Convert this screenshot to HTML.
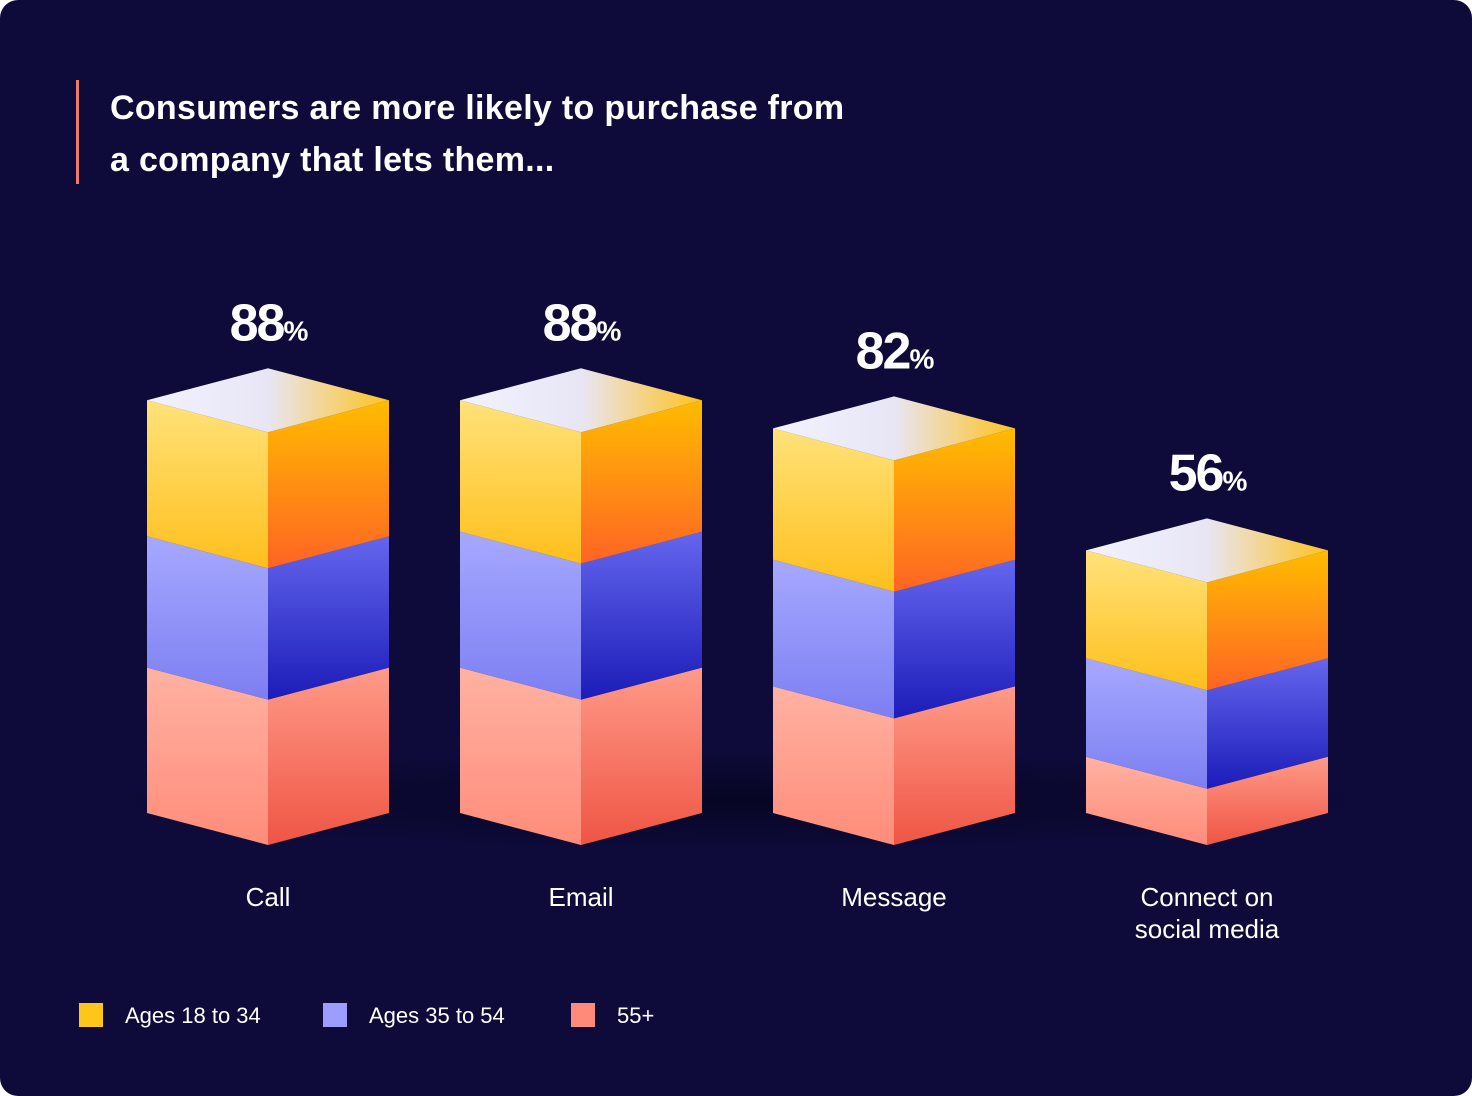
<!DOCTYPE html>
<html><head><meta charset="utf-8">
<style>
html,body{margin:0;padding:0;background:#fff;}
#root{position:relative;width:1472px;height:1096px;background:#0e0b3a;border-radius:18px;overflow:hidden;font-family:"Liberation Sans",sans-serif;color:#fff;}
.title{position:absolute;left:110px;top:82px;font-size:34px;line-height:52px;font-weight:bold;letter-spacing:0.3px;}
.tbar{position:absolute;left:76px;top:80px;width:3px;height:104px;background:#ef7a6a;}
svg{position:absolute;left:0;top:0;}
.leg{position:absolute;top:1003px;font-size:22px;}
.sw{position:absolute;top:1003px;width:24px;height:24px;}
</style></head><body>
<div id="root">
<div class="tbar"></div>
<div class="title">Consumers are more likely to purchase from<br>a company that lets them...</div>
<svg id="chart" width="1472" height="1096">
<defs>
<linearGradient id="gYL" x1="0" y1="0" x2="0" y2="1"><stop offset="0" stop-color="#ffe27a"/><stop offset="1" stop-color="#ffbf1c"/></linearGradient>
<linearGradient id="gYR" x1="0" y1="0" x2="0" y2="1"><stop offset="0" stop-color="#ffbc00"/><stop offset="1" stop-color="#ff6424"/></linearGradient>
<linearGradient id="gBL" x1="0" y1="0" x2="0" y2="1"><stop offset="0" stop-color="#a6a8ff"/><stop offset="1" stop-color="#7d7ff2"/></linearGradient>
<linearGradient id="gBR" x1="0" y1="0" x2="0" y2="1"><stop offset="0" stop-color="#6466ee"/><stop offset="1" stop-color="#1c1cb8"/></linearGradient>
<linearGradient id="gSL" x1="0" y1="0" x2="0" y2="1"><stop offset="0" stop-color="#ffb2a2"/><stop offset="1" stop-color="#ff8c7a"/></linearGradient>
<linearGradient id="gSR" x1="0" y1="0" x2="0" y2="1"><stop offset="0" stop-color="#ff9a88"/><stop offset="1" stop-color="#ef5544"/></linearGradient>
<linearGradient id="gT" x1="0" y1="0" x2="1" y2="0"><stop offset="0" stop-color="#f2f2ff"/><stop offset="0.5" stop-color="#e8e6f4"/><stop offset="1" stop-color="#ffc21e"/></linearGradient>
<radialGradient id="gSh" cx="0.5" cy="0.5" r="0.5"><stop offset="0" stop-color="#050420" stop-opacity="0.9"/><stop offset="1" stop-color="#050420" stop-opacity="0"/></radialGradient>
</defs>
</svg>
<div class="sw" style="left:79px;background:#ffc61a"></div>
<div class="leg" style="left:125px">Ages 18 to 34</div>
<div class="sw" style="left:323px;background:#9c9dff"></div>
<div class="leg" style="left:369px">Ages 35 to 54</div>
<div class="sw" style="left:571px;background:#ff8a7a"></div>
<div class="leg" style="left:617px">55+</div>
</div>
<script>
const categories = ["Call", "Email", "Message", "Connect on|social media"];
const totals = [88, 88, 82, 56];
const ages18to34 = [29, 28, 28, 23];
const ages35to54 = [28, 29, 27, 21];
const ages55plus = [31, 31, 27, 12];

const svg = document.getElementById('chart');
const NS = 'http://www.w3.org/2000/svg';
const baseY = 845, pxPer = 4.69, x0 = 268, step = 313, hw = 121, dy = 32;
const yOf = v => baseY - v * pxPer;
const xOf = i => x0 + i * step;
function mk(tag, attrs) { const e = document.createElementNS(NS, tag); for (const k in attrs) e.setAttribute(k, attrs[k]); svg.appendChild(e); return e; }

// shadow
const sh = mk('ellipse', {cx: 740, cy: 800, rx: 640, ry: 50, fill: 'url(#gSh)'});



const segs = [[ages55plus, 'gSL', 'gSR', '55-plus'], [ages35to54, 'gBL', 'gBR', '35-54'], [ages18to34, 'gYL', 'gYR', '18-34']];
categories.forEach((cat, i) => {
  const cx = xOf(i);
  let acc = 0;
  segs.forEach(([arr, fl, fr, nm]) => {
    const yb = yOf(acc), yt = yOf(acc + arr[i]);
    acc += arr[i];
    const l = mk('polygon', {points: `${cx-hw},${yt-dy} ${cx},${yt} ${cx},${yb} ${cx-hw},${yb-dy}`, fill: `url(#${fl})`});
    
    
    const r = mk('polygon', {points: `${cx},${yt} ${cx+hw},${yt-dy} ${cx+hw},${yb-dy} ${cx},${yb}`, fill: `url(#${fr})`});
    
    
  });
  const yT = yOf(acc);
  const top = mk('polygon', {points: `${cx},${yT} ${cx-hw},${yT-dy} ${cx},${yT-2*dy} ${cx+hw},${yT-dy}`, fill: 'url(#gT)'});
  
  
  const t = mk('text', {x: cx, y: yOf(totals[i]) - 2*dy - 28, 'text-anchor': 'middle', fill: '#fff', 'font-family': 'Liberation Sans, sans-serif', 'font-weight': 'bold', 'font-size': 52, 'letter-spacing': '-2'});
  
  
  t.textContent = totals[i];
  const ts = document.createElementNS(NS, 'tspan');
  ts.setAttribute('font-size', '28');
  ts.textContent = '%';
  t.appendChild(ts);
  cat.split('|').forEach((line, j) => {
    const c = mk('text', {x: cx, y: 906 + j*32, 'text-anchor': 'middle', fill: '#fff', 'font-family': 'Liberation Sans, sans-serif', 'font-size': 26});
    
    
    c.textContent = line;
  });
});
</script>
</body></html>
